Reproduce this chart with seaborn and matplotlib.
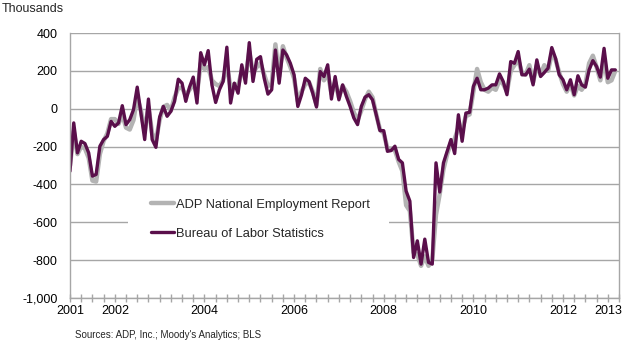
import numpy as np
import pandas as pd
import seaborn as sns
import matplotlib
# no display in the sandbox
matplotlib.use('Agg')
import matplotlib.pyplot as plt
from matplotlib.patches import Rectangle

# monthly change, thousands, Jan 2001 - Mar 2013
bls = [-330, -75, -233, -172, -184, -233, -356, -347, -198, -163, -146, -67,
       -93, -75, 16, -84, -58, -5, 114, -23, -163, 51, -163, -204,
       -44, 12, -40, -14, 39, 156, 135, 39, 114, 167, 30, 296,
       232, 307, 126, 33, 100, 144, 325, 30, 135, 82, 232, 135,
       349, 144, 261, 275, 161, 77, 100, 310, 135, 310, 284, 240,
       179, 12, 74, 161, 144, 82, 9, 196, 170, 232, 51, 170,
       47, 126, 65, 12, -49, -84, 12, 61, 74, 47, -32, -116,
       -116, -225, -221, -198, -268, -286, -435, -488, -786, -698, -821, -689,
       -812, -821, -286, -440, -286, -225, -163, -237, -32, -172, -23, -19,
       118, 161, 100, 100, 109, 126, 126, 184, 144, 74, 249, 240,
       302, 179, 179, 209, 126, 258, 170, 191, 214, 323, 267, 179,
       153, 100, 153, 74, 174, 126, 114, 205, 254, 223, 167, 319,
       161, 205, 205]

adp = [-300, -120, -240, -200, -210, -260, -380, -385, -240, -170, -130, -55,
       -55, -80, -30, -100, -110, -60, 60, -10, -120, 10, -130, -170,
       -60, 10, 20, -10, 60, 110, 110, 70, 100, 130, 80, 240,
       210, 220, 150, 130, 120, 150, 230, 110, 130, 120, 200, 170,
       300, 190, 220, 240, 180, 120, 130, 340, 170, 330, 270, 220,
       160, 40, 90, 130, 140, 90, 20, 210, 150, 190, 80, 140,
       60, 120, 90, 40, -20, -60, -10, 50, 90, 60, -30, -110,
       -130, -210, -210, -220, -280, -330, -510, -540, -760, -770, -830, -780,
       -830, -800, -560, -450, -320, -240, -180, -160, -100, -110, -40, -30,
       90, 210, 140, 100, 90, 110, 100, 150, 130, 90, 200, 230,
       260, 190, 180, 230, 140, 230, 180, 230, 200, 290, 260, 190,
       130, 90, 130, 70, 120, 100, 130, 240, 280, 220, 150, 260,
       140, 150, 200]

year_labels = ['2001', '2002', '2004', '2006', '2008', '2010', '2012', '2013']
year_label_months = [0, 12, 36, 60, 84, 108, 132, 144]
y_ticks = [400, 200, 0, -200, -400, -600, -800, -1000]
y_tick_labels = ['400', '200', '0', '-200', '-400', '-600', '-800', '-1,000']

adp_name = 'ADP National Employment Report'
bls_name = 'Bureau of Labor Statistics'
df = pd.DataFrame({'month': np.arange(len(bls)), adp_name: adp, bls_name: bls})

sns.set_theme(style='white')
plt.rcParams['font.family'] = ['Liberation Sans', 'DejaVu Sans']
plt.rcParams['font.size'] = 9

fig = plt.figure(figsize=(6.3, 3.5), dpi=100)
ax = fig.add_axes([70 / 630, 52 / 350, 549 / 630, 265 / 350])

sns.lineplot(data=df, x='month', y=adp_name, color='#b3b3b3', lw=3.2,
             label=adp_name, ax=ax, solid_joinstyle='round')
sns.lineplot(data=df, x='month', y=bls_name, color='#5a0f4b', lw=2.4,
             label=bls_name, ax=ax, solid_joinstyle='round')

ax.set_xlim(0, 146.8)
ax.set_ylim(-1000, 400)
ax.set_xlabel('')
ax.set_ylabel('')

ax.set_yticks(y_ticks)
ax.set_yticklabels(y_tick_labels)
ax.yaxis.grid(True, color='#a6a6a6', lw=1)
ax.set_axisbelow(True)
ax.tick_params(axis='y', length=0, pad=9, labelsize=9, labelcolor='black')

# quarterly tick marks, labels only at a few years
qticks = list(range(0, 148, 3))
ax.set_xticks(qticks)
ax.set_xticklabels([year_labels[year_label_months.index(m)] if m in year_label_months else ''
                    for m in qticks])
ax.tick_params(axis='x', direction='inout', length=6, width=1, color='#a6a6a6',
               pad=2, labelsize=9, labelcolor='black', bottom=True)

for side in ['left', 'right', 'bottom']:
    ax.spines[side].set_color('#a6a6a6')
    ax.spines[side].set_linewidth(1)
ax.spines['top'].set_visible(False)

# white legend area hides the gridline behind it (wider than the legend itself)
ax.add_patch(Rectangle((0.1056, 0.17), 0.475, 0.22, transform=ax.transAxes,
                       facecolor='white', edgecolor='none', zorder=1.5))

leg = ax.legend(loc='upper left', bbox_to_anchor=(0.1355, 0.3985), frameon=False,
                handlelength=1.8, handletextpad=0.15, labelspacing=1.3,
                borderpad=0.5, borderaxespad=0, fontsize=9.25)

fig.text(0.003, 1 - 9 / 350, 'Thousands', ha='left', va='center', fontsize=9)
fig.text(75 / 630, 1 - 335 / 350, "Sources: ADP, Inc.; Moody's Analytics; BLS",
         ha='left', va='center', fontsize=7)

plt.savefig('out.png', dpi=100)
plt.close()
